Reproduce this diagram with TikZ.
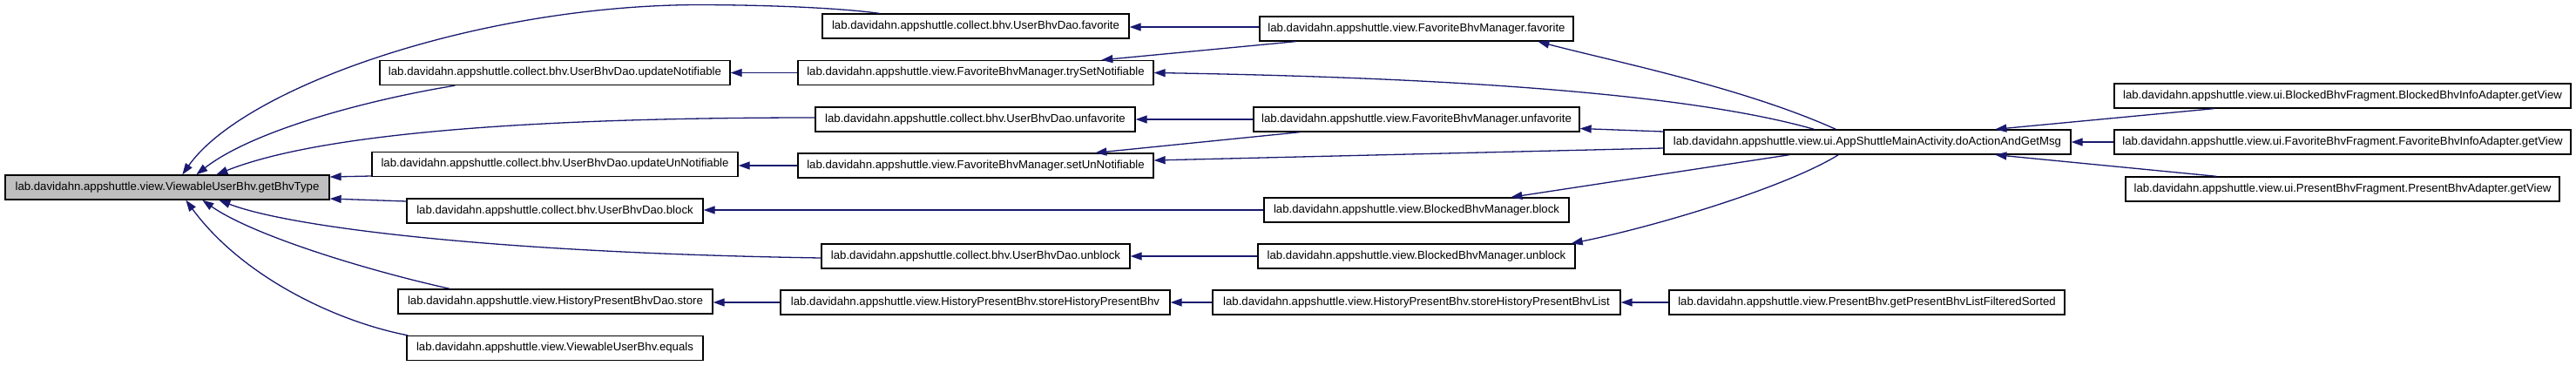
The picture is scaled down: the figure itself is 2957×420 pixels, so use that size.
\documentclass[tikz,border=0pt]{standalone}
\usepackage{fontspec}
\setmainfont{Liberation Sans}
\usetikzlibrary{arrows.meta,calc}
\definecolor{edgeblue}{HTML}{191970}
\definecolor{focusgray}{HTML}{BFBFBF}
\tikzset{
  fnbox/.style={draw=black, line width=1.3pt, fill=white, minimum height=28pt,
    inner sep=0pt, font=\fontsize{13.2}{15}\selectfont, text=black},
  focusbox/.style={fnbox, fill=focusgray},
  edge/.style={draw=edgeblue, line width=1.3pt, {Triangle[length=13pt,width=9pt]}-},
}
\begin{document}
\begin{tikzpicture}[x=1pt,y=-1pt]
\fill[white] (0,0) rectangle (2957,420);
\useasboundingbox (0,0) rectangle (2957,420);
% nodes
\node[focusbox, minimum width=372pt] (A) at (192,215) {lab.davidahn.appshuttle.view.ViewableUserBhv.getBhvType};
\node[fnbox, minimum width=402pt] (B) at (637,83.5) {lab.davidahn.appshuttle.collect.bhv.UserBhvDao.updateNotifiable};
\node[fnbox, minimum width=420pt] (C) at (637,188.5) {lab.davidahn.appshuttle.collect.bhv.UserBhvDao.updateUnNotifiable};
\node[fnbox, minimum width=340pt] (D) at (637,242) {lab.davidahn.appshuttle.collect.bhv.UserBhvDao.block};
\node[fnbox, minimum width=361pt] (E) at (637.5,346) {lab.davidahn.appshuttle.view.HistoryPresentBhvDao.store};
\node[fnbox, minimum width=340pt] (F) at (637,399.5) {lab.davidahn.appshuttle.view.ViewableUserBhv.equals};
\node[fnbox, minimum width=352pt] (G) at (1120,30) {lab.davidahn.appshuttle.collect.bhv.UserBhvDao.favorite};
\node[fnbox, minimum width=408pt] (H) at (1120,83.5) {lab.davidahn.appshuttle.view.FavoriteBhvManager.trySetNotifiable};
\node[fnbox, minimum width=367pt] (I) at (1119.5,137) {lab.davidahn.appshuttle.collect.bhv.UserBhvDao.unfavorite};
\node[fnbox, minimum width=408pt] (J) at (1120,190) {lab.davidahn.appshuttle.view.FavoriteBhvManager.setUnNotifiable};
\node[fnbox, minimum width=354pt] (K) at (1120,294) {lab.davidahn.appshuttle.collect.bhv.UserBhvDao.unblock};
\node[fnbox, minimum width=447pt] (L) at (1119.5,347) {lab.davidahn.appshuttle.view.HistoryPresentBhv.storeHistoryPresentBhv};
\node[fnbox, minimum width=360pt] (M) at (1626,33) {lab.davidahn.appshuttle.view.FavoriteBhvManager.favorite};
\node[fnbox, minimum width=374pt] (N) at (1626,137) {lab.davidahn.appshuttle.view.FavoriteBhvManager.unfavorite};
\node[fnbox, minimum width=350pt] (O) at (1626,241) {lab.davidahn.appshuttle.view.BlockedBhvManager.block};
\node[fnbox, minimum width=364pt] (P) at (1626,294) {lab.davidahn.appshuttle.view.BlockedBhvManager.unblock};
\node[fnbox, minimum width=468pt] (Q) at (1626,347) {lab.davidahn.appshuttle.view.HistoryPresentBhv.storeHistoryPresentBhvList};
\node[fnbox, minimum width=467pt] (R) at (2143.5,163) {lab.davidahn.appshuttle.view.ui.AppShuttleMainActivity.doActionAndGetMsg};
\node[fnbox, minimum width=454pt] (S) at (2143,347) {lab.davidahn.appshuttle.view.PresentBhv.getPresentBhvListFilteredSorted};
\node[fnbox, minimum width=524pt] (T) at (2689,110) {lab.davidahn.appshuttle.view.ui.BlockedBhvFragment.BlockedBhvInfoAdapter.getView};
\node[fnbox, minimum width=524pt] (U) at (2689,163) {lab.davidahn.appshuttle.view.ui.FavoriteBhvFragment.FavoriteBhvInfoAdapter.getView};
\node[fnbox, minimum width=498pt] (V) at (2689,217) {lab.davidahn.appshuttle.view.ui.PresentBhvFragment.PresentBhvAdapter.getView};
% edges into getBhvType
\draw[edge] ($(A.north west)+(204,0)$) .. controls (280,100) and (550,5) .. (807,5.5) .. controls (900,6) and (970,10) .. ($(G.north west)+(66,0)$);
\draw[edge] ($(A.north west)+(220,0)$) .. controls (290,150) and (420,115) .. ($(B.south west)+(87,0)$);
\draw[edge] ($(A.north west)+(243,0)$) .. controls (350,160) and (550,135) .. ($(I.west)+(0,-2)$);
\draw[edge] ($(A.east)+(0,-12)$) -- ($(C.west)+(0,13.5)$);
\draw[edge] ($(A.east)+(0,13)$) -- ($(D.west)+(0,-11)$);
\draw[edge] ($(A.south west)+(246,0)$) .. controls (330,260) and (560,290) .. ($(K.west)+(0,2)$);
\draw[edge] ($(A.south west)+(227,0)$) .. controls (290,270) and (420,310) .. ($(E.north west)+(60,0)$);
\draw[edge] ($(A.south west)+(208,0)$) .. controls (280,320) and (390,370) .. ($(F.north west)+(2,0)$);
% second column
\draw[edge] (B.east) -- (H.west);
\draw[edge] (J.west -| C.east) -- (J.west);
\draw[edge] (O.west -| D.east) -- (O.west);
\draw[edge] (L.west -| E.east) -- (L.west);
% third column
\draw[edge] ($(G.east)+(0,1)$) -- ($(M.west)+(0,-2)$);
\draw[edge] ($(H.north west)+(349,0)$) -- ($(M.south west)+(42,0)$);
\draw[edge] (H.east) .. controls (1600,88) and (1920,102) .. ($(R.north west)+(173,0)$);
\draw[edge] ($(M.south west)+(320,0)$) .. controls (1850,70) and (2000,100) .. ($(R.north west)+(198,0)$);
\draw[edge] (N.west -| I.east) -- (N.west);
\draw[edge] ($(J.north west)+(342,0)$) -- ($(N.south west)+(54,0)$);
\draw[edge] ($(N.east)+(0,10.5)$) -- ($(R.west)+(0,-12)$);
\draw[edge] ($(J.east)+(0,-6)$) -- ($(R.west)+(0,7)$);
\draw[edge] ($(O.north west)+(284,0)$) -- ($(R.south west)+(145,0)$);
\draw[edge] ($(P.north east)+(-5,0)$) .. controls (1900,260) and (2050,215) .. ($(R.south west)+(201,0)$);
\draw[edge] (P.west -| K.east) -- (P.west);
\draw[edge] (Q.west -| L.east) -- (Q.west);
\draw[edge] (S.west -| Q.east) -- (S.west);
% right column
\draw[edge] ($(R.north west)+(381,0)$) -- ($(T.south west)+(115,0)$);
\draw[edge] (R.east) -- (U.west);
\draw[edge] ($(R.south west)+(381,0)$) -- ($(V.north west)+(105,0)$);
\end{tikzpicture}
\end{document}
